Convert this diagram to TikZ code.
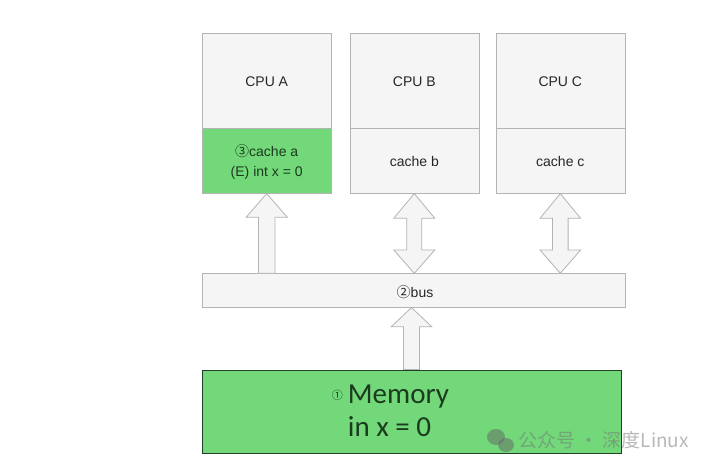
\documentclass[tikz,border=0pt]{standalone}
\usepackage{fontspec}
\setmainfont{Liberation Sans}
\newfontfamily\cjk{Noto Sans CJK SC}
\newfontfamily\calib{Carlito}
\definecolor{boxfill}{HTML}{F5F5F5}
\definecolor{boxline}{HTML}{B4B4B4}
\definecolor{grn}{HTML}{72D87A}
\definecolor{grntext}{HTML}{1C3A1E}
\definecolor{memline}{HTML}{24402A}
\newcommand\blockup[5]{% center, half head, half shaft, tip, base, (bottom via \botY)
  \filldraw[arrowshape] (#1,#4) -- (#1+#2,#5) -- (#1+#3,#5) -- (#1+#3,\botY) -- (#1-#3,\botY) -- (#1-#3,#5) -- (#1-#2,#5) -- cycle;}
\newcommand\blockdbl[7]{% center, half head, half shaft, top tip, top base, low base, low tip
  \filldraw[arrowshape] (#1,#4) -- (#1+#2,#5) -- (#1+#3,#5) -- (#1+#3,#6) -- (#1+#2,#6) -- (#1,#7) -- (#1-#2,#6) -- (#1-#3,#6) -- (#1-#3,#5) -- (#1-#2,#5) -- cycle;}
\begin{document}
\begin{tikzpicture}[x=1pt,y=-1pt,
  box/.style={draw=boxline, fill=boxfill, line width=0.8pt, anchor=north west, inner sep=0pt},
  arrowshape/.style={draw=boxline, fill=boxfill, line width=0.8pt, line join=miter},
  lbl/.style={font=\fontsize{14}{20}\selectfont, text=black!85, align=center, inner sep=0pt}]
\useasboundingbox (0,0) rectangle (720,470);
\fill[white] (0,0) rectangle (720,470);

% CPU boxes
\node[box, minimum width=129pt, minimum height=94.4pt] (cpuA) at (202.3,33.3) {};
\node[box, fill=grn, minimum width=129pt, minimum height=65.6pt] (cacheA) at (202.3,127.7) {};
\node[box, minimum width=129pt, minimum height=94.4pt] (cpuB) at (350,33.3) {};
\node[box, minimum width=129pt, minimum height=65.6pt] (cacheB) at (350,127.7) {};
\node[box, minimum width=129.3pt, minimum height=94.4pt] (cpuC) at (495.7,33.3) {};
\node[box, minimum width=129.3pt, minimum height=65.6pt] (cacheC) at (495.7,127.7) {};

% bus
\node[box, minimum width=422.7pt, minimum height=34pt] (bus) at (202.3,273.3) {};

% memory
\node[box, fill=grn, draw=memline, line width=1pt, minimum width=419pt, minimum height=82.7pt] (mem) at (201.7,370) {};

% labels
\node[lbl] (tA) at (266.7,81.7) {CPU A};
\node[lbl] (tB) at (414.3,81.7) {CPU B};
\node[lbl] (tC) at (560.3,81.7) {CPU C};
\node[lbl, text=grntext] (tcA) at (266.7,161.7) {{\cjk ③}cache a\\(E) int x = 0};
\node[lbl] (tcB) at (414.3,161.7) {cache b};
\node[lbl] (tcC) at (560.3,161.7) {cache c};
\node[lbl] (tbus) at (415,291.7) {{\cjk ②}bus};

% arrows
\def\botY{273.3}
\blockup{266.7}{20.6}{8.3}{193.6}{217.3}
\blockdbl{414.3}{20.5}{7.5}{193.6}{218.3}{250}{273.3}
\blockdbl{560.3}{20.3}{7.8}{193.6}{218.3}{250}{273.3}
\def\botY{369.5}
\blockup{411.5}{20.2}{8}{307.6}{326.7}

% memory text
\node[anchor=base west, inner sep=0pt, text=grntext, font=\calib\fontsize{29}{34}\selectfont] (mtext1) at (347.7,403) {Memory};
\node[anchor=base east, inner sep=0pt, text=grntext, font=\cjk\fontsize{11}{12}\selectfont] (mnum) at (343,399) {①};
\node[anchor=base west, inner sep=0pt, text=grntext, font=\calib\fontsize{29}{34}\selectfont] (mtext2) at (347.7,436) {in x = 0};

% watermark
\begin{scope}[opacity=0.5]
\fill[black!60] (496,437) ellipse (9pt and 8pt);
\fill[black!60] (506,445) ellipse (8pt and 7pt);
\node[anchor=west, inner sep=0pt, text=black!55, font=\cjk\fontsize{19}{22}\selectfont] (wm) at (518,440) {公众号 · 深度Linux};
\end{scope}
\end{tikzpicture}
\end{document}
